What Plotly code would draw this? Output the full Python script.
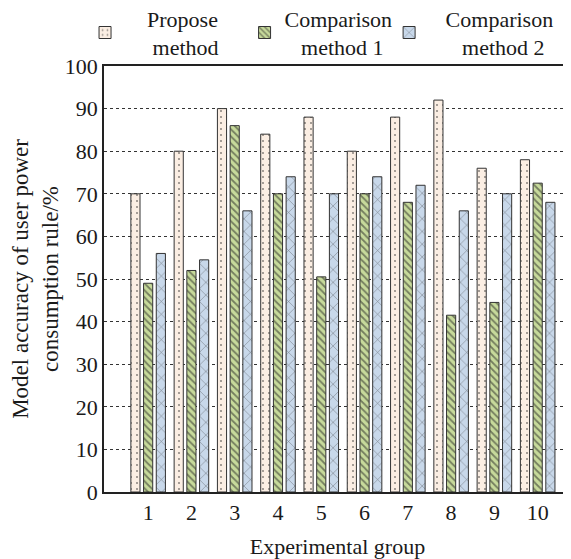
import plotly.graph_objects as go

groups = [1, 2, 3, 4, 5, 6, 7, 8, 9, 10]
tick_labels = ["1", "2", "3", "4", "5", "6", "7", "8", "9", "10"]
propose = [70, 80, 90, 84, 88, 80, 88, 92, 76, 78]
method1 = [49, 52, 86, 70, 50.5, 70, 68, 41.5, 44.5, 72.5]
method2 = [56, 54.5, 66, 74, 70, 74, 72, 66, 70, 68]

names = ["\u00a0\u00a0\u00a0\u00a0Propose<br>\u00a0\u00a0\u00a0\u00a0\u00a0method",
         "Comparison<br>\u00a0\u00a0\u00a0method 1",
         "\u00a0\u00a0\u00a0Comparison<br>\u00a0\u00a0\u00a0\u00a0\u00a0\u00a0method 2"]

FONT = "Liberation Serif"

fig = go.Figure()
fig.add_trace(go.Bar(
    x=groups, y=propose, name=names[0], legend="legend",
    marker=dict(color="#fbeee3", line=dict(color="#333333", width=1),
                pattern=dict(shape=".", fgcolor="#222222", bgcolor="#fbeee3",
                             size=6, solidity=0.1))))
fig.add_trace(go.Bar(
    x=groups, y=method1, name=names[1], legend="legend2",
    marker=dict(color="#c7da9b", line=dict(color="#333333", width=1),
                pattern=dict(shape="\\", fgcolor="#222222", bgcolor="#c7da9b",
                             size=5, solidity=0.35))))
fig.add_trace(go.Bar(
    x=groups, y=method2, name=names[2], legend="legend3",
    marker=dict(color="#c8d8ea", line=dict(color="#333333", width=1),
                pattern=dict(shape="x", fgcolor="#222222", bgcolor="#c8d8ea",
                             size=9, solidity=0.12))))

leg_common = dict(orientation="v", yanchor="top", xanchor="left",
                  bgcolor="rgba(0,0,0,0)", font=dict(family=FONT, size=22, color="#1a1a1a"))
fig.update_layout(
    width=563, height=551,
    showlegend=True,
    margin=dict(l=96, r=0, t=58, b=67, autoexpand=False),
    paper_bgcolor="white", plot_bgcolor="white",
    barmode="group", bargap=0.119, bargroupgap=0.28,
    font=dict(family=FONT, size=22, color="#1a1a1a"),
    legend=dict(x=-0.0406, y=1.161, **leg_common),
    legend2=dict(x=0.301, y=1.161, **leg_common),
    legend3=dict(x=0.6105, y=1.161, **leg_common),
    xaxis=dict(range=[-0.02, 10.77], tickvals=groups, ticktext=tick_labels,
               showline=True, linecolor="#222222", linewidth=1.5, mirror=True,
               showgrid=False, ticks="", zeroline=False, automargin=False,
               tickfont=dict(family=FONT, size=22),
               title=dict(text="Experimental group", font=dict(family=FONT, size=22), standoff=15)),
    yaxis=dict(range=[0, 100], dtick=10, showline=True, linecolor="#222222", linewidth=1.5,
               showgrid=True, gridcolor="#333333", griddash="dot", gridwidth=1,
               zeroline=False, ticks="", automargin=False,
               tickfont=dict(family=FONT, size=22),
               title=dict(text="Model accuracy of user power<br>consumption rule/%",
                          font=dict(family=FONT, size=23), standoff=7)),
)

fig.write_html("out.html")
